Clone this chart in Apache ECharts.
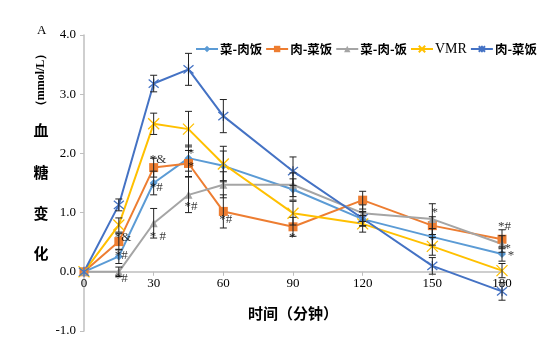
<!DOCTYPE html>
<html>
<head>
<meta charset="utf-8">
<script src="https://cdn.jsdelivr.net/npm/echarts@6/dist/echarts.min.js"></script>
<style>
  html, body { margin: 0; padding: 0; background: #fff; }
  #chart { width: 545px; height: 354px; }
</style>
</head>
<body>
<div id="chart"></div>
<script>
  // 时间点（分钟）
  const times = [0, 15, 30, 45, 60, 90, 120, 150, 180]
  const xTicks = [0, 30, 60, 90, 120, 150, 180]

  // 各组血糖变化 (mmol/L)
  const vegMeatRice = [0, 0.26, 1.50, 1.92, 1.79, 1.39, 0.89, 0.59, 0.30]
  const meatVegRice = [0, 0.51, 1.76, 1.83, 1.02, 0.76, 1.21, 0.78, 0.55]
  const vegMeatRice2 = [0, 0.00, 0.82, 1.30, 1.47, 1.47, 0.99, 0.89, 0.47]
  const vmr = [0, 0.79, 2.50, 2.41, 1.82, 0.99, 0.81, 0.43, 0.02]
  const meatVegRice2 = [0, 1.13, 3.18, 3.42, 2.63, 1.70, 0.90, 0.10, -0.33]

  // 误差（±）
  const errVegMeatRice = [0, 0.12, 0.20, 0.22, 0.25, 0.18, 0.12, 0.14, 0.12]
  const errMeatVegRice = [0, 0.14, 0.16, 0.22, 0.28, 0.16, 0.15, 0.15, 0.16]
  const errVegMeatRice2 = [0, 0.08, 0.25, 0.30, 0.22, 0.20, 0.14, 0.26, 0.14]
  const errVmr = [0, 0.12, 0.18, 0.30, 0.30, 0.20, 0.14, 0.15, 0.12]
  const errMeatVegRice2 = [0, 0.10, 0.14, 0.27, 0.28, 0.24, 0.12, 0.14, 0.15]

  // 显著性标注 [时间, 值, 文本]
  const marks = [
    [15, 0.57, '*&'], [15, 0.27, '*#'], [15, -0.12, '*#'],
    [30, 1.90, '*&'], [30, 1.42, '*#'], [30, 0.60, '* #'],
    [45, 1.99, ' *'], [45, 1.78, ' *'], [45, 1.11, '*#'],
    [60, 0.88, '*#'], [90, 0.57, '*'], [150, 1.00, ' *'],
    [180, 0.76, '*#'], [180, 0.39, '  *'], [180, 0.27, '   *']
  ]

  const names = ['菜-肉饭', '肉-菜饭', '菜-肉-饭', 'VMR', '肉-菜饭 ']
  const colors = ['#5B9BD5', '#ED7D31', '#A5A5A5', '#FFC000', '#4472C4']
  const values = [vegMeatRice, meatVegRice, vegMeatRice2, vmr, meatVegRice2]
  const errors = [errVegMeatRice, errMeatVegRice, errVegMeatRice2, errVmr, errMeatVegRice2]
  const symbols = [
    'diamond', 'rect', 'triangle',
    'path://M0,0L10,10M10,0L0,10',
    'path://M0,0L10,10M10,0L0,10M5,-1L5,11'
  ]
  const symbolSizes = [8, 9, 8, 11, 10]

  const serif = '"Liberation Serif", "DejaVu Serif", serif'
  const cjk = '"Noto Sans CJK SC", sans-serif'

  const lineSeries = names.map((name, i) => ({
    name: name,
    type: 'line',
    data: times.map((t, j) => [t, values[i][j]]),
    symbol: symbols[i],
    symbolSize: symbolSizes[i],
    lineStyle: { color: colors[i], width: 2 },
    itemStyle: {
      color: colors[i],
      borderColor: colors[i],
      borderWidth: i >= 3 ? 1.3 : 0
    },
    z: 3
  }))

  const errSeries = names.map((name, i) => ({
    type: 'custom',
    name: 'err' + i,
    data: times.map((t, j) => [t, values[i][j] - errors[i][j], values[i][j] + errors[i][j]]),
    renderItem: function (params, api) {
      if (api.value(2) - api.value(1) === 0) return
      const lo = api.coord([api.value(0), api.value(1)])
      const hi = api.coord([api.value(0), api.value(2)])
      const w = 3.5
      const style = { stroke: '#222', lineWidth: 1 }
      return {
        type: 'group',
        children: [
          { type: 'line', shape: { x1: lo[0], y1: lo[1], x2: hi[0], y2: hi[1] }, style: style },
          { type: 'line', shape: { x1: lo[0] - w, y1: lo[1], x2: lo[0] + w, y2: lo[1] }, style: style },
          { type: 'line', shape: { x1: hi[0] - w, y1: hi[1], x2: hi[0] + w, y2: hi[1] }, style: style }
        ]
      }
    },
    z: 4,
    silent: true
  }))

  const markSeries = {
    type: 'scatter',
    name: 'marks',
    data: marks.map(m => ({ value: [m[0], m[1]], label: { formatter: m[2] } })),
    symbolSize: 0,
    label: {
      show: true,
      position: 'right',
      distance: -4,
      color: '#000',
      fontFamily: serif,
      fontSize: 13
    },
    z: 5,
    silent: true
  }

  const chart = echarts.init(document.getElementById('chart'))
  chart.setOption({
    animation: false,
    backgroundColor: '#fff',
    grid: { left: 84, right: 43, top: 35, bottom: 23, outerBoundsMode: 'none' },
    legend: {
      data: names,
      left: 190,
      top: 37,
      width: 354,
      itemWidth: 22,
      itemHeight: 8,
      itemGap: 3,
      formatter: function (n) {
        return n === 'VMR' ? '{s|VMR}' : '{c|' + n.trim() + '}'
      },
      textStyle: {
        padding: [0, 0, 0, -3],
        rich: {
          s: { fontFamily: serif, fontSize: 14, color: '#000' },
          c: { fontFamily: cjk, fontSize: 12.5, fontWeight: 'bold', color: '#000' }
        }
      }
    },
    xAxis: {
      type: 'value',
      min: 0,
      max: 180,
      interval: 30,
      axisLine: { onZero: true, lineStyle: { color: '#BFBFBF', width: 1.5 } },
      axisTick: { show: true, length: 4, lineStyle: { color: '#BFBFBF' } },
      axisLabel: {
        fontFamily: serif, fontSize: 13, color: '#000', margin: -54,
        customValues: xTicks
      },
      splitLine: { show: false }
    },
    yAxis: {
      type: 'value',
      min: -1,
      max: 4,
      interval: 1,
      axisLine: { show: true, lineStyle: { color: '#BFBFBF', width: 1.5 } },
      axisTick: { show: true, length: 4, lineStyle: { color: '#BFBFBF' } },
      axisLabel: {
        fontFamily: serif, fontSize: 13, color: '#000', margin: 8,
        formatter: v => v.toFixed(1)
      },
      splitLine: { show: false }
    },
    graphic: [
      { type: 'text', left: 37, top: 24, style: { text: 'A', font: '13px ' + serif, fill: '#000' } },
      {
        type: 'text', x: 41, y: 80, rotation: Math.PI / 2, originX: 0, originY: 0,
        style: { text: '（mmol/L）', font: 'bold 12px ' + serif, fill: '#000', align: 'center', verticalAlign: 'middle' }
      },
      { type: 'text', x: 41, y: 130, style: { text: '血', font: 'bold 15px ' + cjk, fill: '#000', align: 'center', verticalAlign: 'middle' } },
      { type: 'text', x: 41, y: 172, style: { text: '糖', font: 'bold 15px ' + cjk, fill: '#000', align: 'center', verticalAlign: 'middle' } },
      { type: 'text', x: 41, y: 213, style: { text: '变', font: 'bold 15px ' + cjk, fill: '#000', align: 'center', verticalAlign: 'middle' } },
      { type: 'text', x: 41, y: 253, style: { text: '化', font: 'bold 15px ' + cjk, fill: '#000', align: 'center', verticalAlign: 'middle' } },
      { type: 'text', x: 293, y: 313, style: { text: '时间（分钟）', font: 'bold 15px ' + cjk, fill: '#000', align: 'center', verticalAlign: 'middle' } }
    ],
    series: lineSeries.concat(errSeries).concat([markSeries])
  })
</script>
</body>
</html>
